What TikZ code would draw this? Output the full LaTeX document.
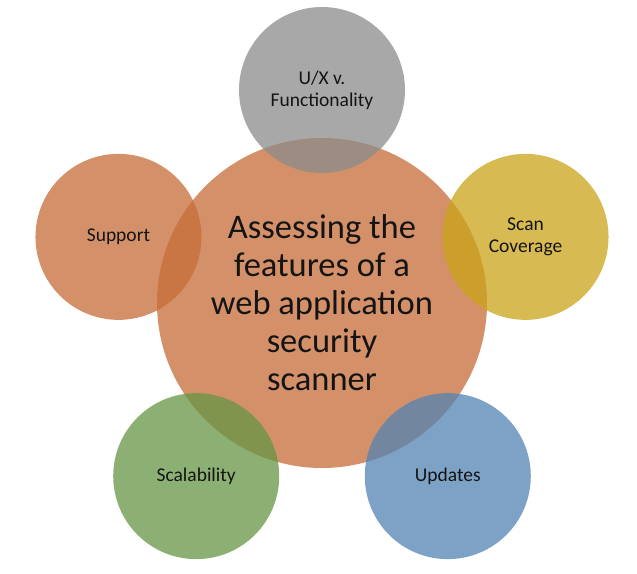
\documentclass[tikz,border=0pt]{standalone}
\usepackage{fontspec}
\setmainfont{Carlito}
\definecolor{coreorange}{RGB}{198,108,55}
\definecolor{uxgray}{RGB}{139,139,139}
\definecolor{scanyellow}{RGB}{203,163,24}
\definecolor{scalegreen}{RGB}{102,150,68}
\definecolor{updateblue}{RGB}{83,131,179}
\tikzset{
    bubble/.style={circle, minimum size=166pt, inner sep=0pt, fill opacity=0.75, text opacity=1,
        align=center, text=black!92, font=\fontsize{19.5}{22}\selectfont},
}
\begin{document}
\begin{tikzpicture}[x=1pt,y=1pt]
    \useasboundingbox (-322,-270) rectangle (315,303);
    % centre
    \node[bubble, minimum size=330pt, fill=coreorange, font=\fontsize{34.5}{38}\selectfont] (core) at (0,0)
        {Assessing the\\features of a\\web application\\security\\scanner};

    % features
    \node[bubble, fill=uxgray] (ux) at (90:213) {U/X v.\\Functionality};
    \node[bubble, fill=scanyellow] (scan) at (18:214) {Scan\\Coverage};
    \node[bubble, fill=updateblue] (updates) at (306:214) {Updates};
    \node[bubble, fill=scalegreen] (scale) at (234:214) {Scalability};
    \node[bubble, fill=coreorange] (support) at (162:214) {Support};
\end{tikzpicture}
\end{document}
